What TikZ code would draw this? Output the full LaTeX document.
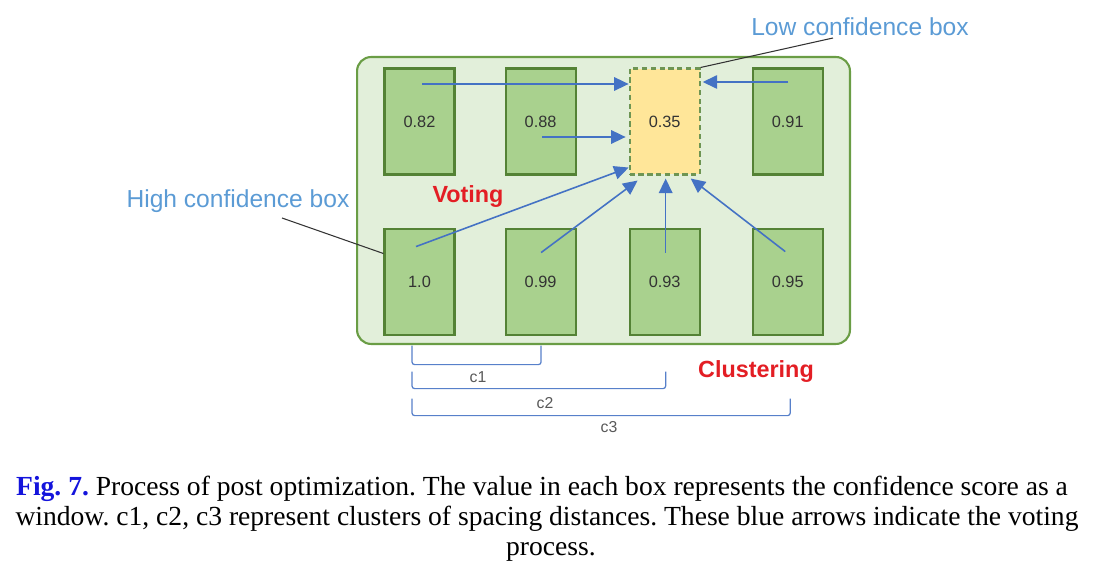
\documentclass[tikz,border=0pt]{standalone}
\usepackage{fontspec}
\setmainfont{Liberation Serif}
\setsansfont{Liberation Sans}
\usepackage{tikz}
\usetikzlibrary{arrows.meta, positioning, calc}
\definecolor{panelfill}{HTML}{E2EFDA}
\definecolor{paneldraw}{HTML}{6A9D45}
\definecolor{winfill}{HTML}{A9D18E}
\definecolor{windraw}{HTML}{548235}
\definecolor{lowfill}{HTML}{FFE699}
\definecolor{votecol}{HTML}{4472C4}
\definecolor{labelblue}{HTML}{5B9BD5}
\definecolor{tagred}{HTML}{E31E24}
\definecolor{figblue}{HTML}{1414DC}
\tikzstyle{panel} = [draw=paneldraw, fill=panelfill, line width=1.2pt, rounded corners=8pt, minimum width=9.86cm, minimum height=5.74cm]
\tikzstyle{win} = [draw=windraw, fill=winfill, line width=1.2pt, minimum width=1.4cm, minimum height=2.12cm, font=\sffamily\fontsize{9.3}{11}\selectfont, text=black!80]
\tikzstyle{lowwin} = [win, fill=lowfill, draw=windraw!85, dash pattern=on 3pt off 2pt]
\tikzstyle{vote} = [draw=votecol, line width=0.9pt, -{Triangle[length=0.29cm, width=0.27cm]}]
\tikzstyle{lead} = [draw=black!80, line width=0.6pt]
\tikzstyle{brk} = [draw=votecol!90, line width=0.7pt, rounded corners=1.5pt]
\tikzstyle{callout} = [text=labelblue, font=\sffamily\fontsize{14}{16}\selectfont]
\tikzstyle{tag} = [text=tagred, font=\sffamily\bfseries\fontsize{13.3}{15}\selectfont]
\tikzstyle{dist} = [text=black!65, font=\sffamily\fontsize{9}{11}\selectfont]
\tikzstyle{capt} = [font=\fontsize{15.7}{18}\selectfont\frenchspacing, anchor=base, inner sep=0pt]
\begin{document}
\begin{tikzpicture}[x=0.02cm, y=-0.02cm]
    \useasboundingbox (0,0) rectangle (1101,570);
    % Panel
    \node (panel) [panel] at (603.5,200.5) {};

    % Windows
    \node (b1) [win] at (419.5,121.5) {0.82};
    \node (b2) [win, right=0.98cm of b1] {0.88};
    \node (low) [lowwin, right=1.04cm of b2] {0.35};
    \node (b4) [win, right=1.02cm of low] {0.91};
    \node (b5) [win, below=1.04cm of b1] {1.0};
    \node (b6) [win, below=1.04cm of b2] {0.99};
    \node (b7) [win, below=1.04cm of low] {0.93};
    \node (b8) [win, below=1.04cm of b4] {0.95};

    % Labels
    \node (lowlbl) [callout] at (860,27) {Low confidence box};
    \node (highlbl) [callout] at (238,201) {High confidence box};
    \node (voting) [tag] at (468,197) {Voting};
    \node (clust) [tag] at (756,372) {Clustering};
    \coordinate (lowtip) at (833,38);
    \coordinate (hightip) at (282,218);

    % Leader lines
    \draw [lead] (low.north east) -- (lowtip);
    \draw [lead] ($(b5.north west)+(0,26)$) -- (hightip);

    % Voting arrows
    \draw [vote] ($(b1)+(2.5,-37.5)$) -- ($(low.west)+(0,-37.5)$);
    \draw [vote] ($(b2)+(1.5,15.5)$) -- ($(low.west)+(-3,15.5)$);
    \draw [vote] ($(b4)+(0.5,-39.5)$) -- ($(low.east)+(2,-39.5)$);
    \draw [vote] ($(b5)+(-3.5,-35)$) -- ($(low.south west)+(0,-8)$);
    \draw [vote] ($(b6)+(0.5,-29)$) -- ($(low.south west)+(9,5)$);
    \draw [vote] ($(b7)+(1,-29)$) -- ($(low.south)+(1,3)$);
    \draw [vote] ($(b8)+(-2.5,-30)$) -- ($(low.south east)+(-10,3)$);

    % Clustering brackets
    \draw [brk] ($(b5.south)+(-7.5,10)$) -- ++(0,19) -| ($(b6.south)+(0.5,10)$);
    \draw [brk] ($(b5.south)+(-7.5,36)$) -- ++(0,17) -| ($(b7.south)+(1,36)$);
    \draw [brk] ($(b5.south)+(-7.5,63)$) -- ++(0,17) -| ($(b8.south)+(2.5,63)$);
    \node (c1) [dist] at (478,377) {c1};
    \node (c2) [dist] at (545,403) {c2};
    \node (c3) [dist] at (609,427) {c3};

    % Caption
    \node (cap1) [capt] at (542,495) {{\color{figblue}\bfseries Fig. 7.} Process of post optimization. The value in each box represents the confidence score as a};
    \node (cap2) [capt] at (547,525) {window. c1, c2, c3 represent clusters of spacing distances. These blue arrows indicate the voting};
    \node (cap3) [capt] at (551,555) {process.};
\end{tikzpicture}
\end{document}
